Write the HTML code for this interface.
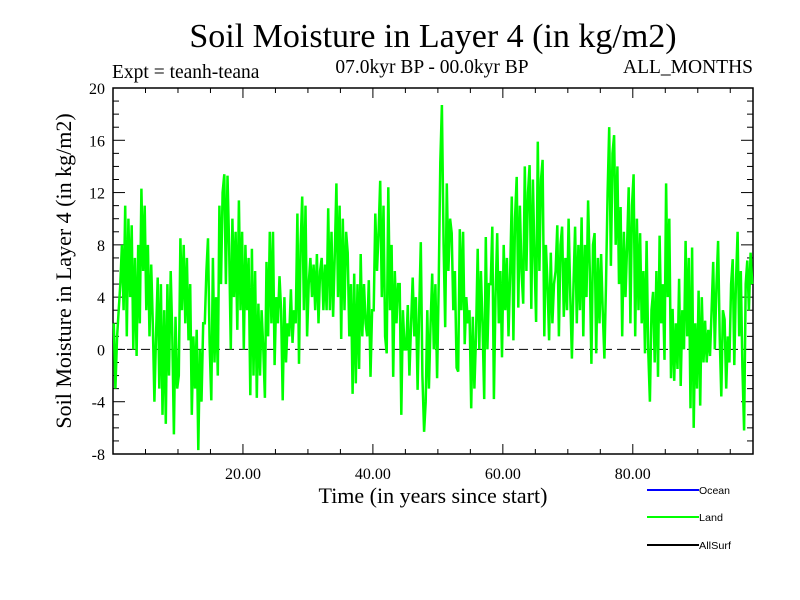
<!DOCTYPE html>
<html><head><meta charset="utf-8"><style>
body{margin:0;background:#fff}
svg{display:block}
.s{font-family:"Liberation Serif",serif}
</style></head><body>
<svg id="chart" width="800" height="600" xmlns="http://www.w3.org/2000/svg">
<rect width="800" height="600" fill="#fff"/>
<text class="s" x="433" y="47" font-size="34" text-anchor="middle">Soil Moisture in Layer 4 (in kg/m2)</text>
<text class="s" x="112" y="78" font-size="19.5">Expt = teanh-teana</text>
<text class="s" x="432" y="73" font-size="19.5" text-anchor="middle">07.0kyr BP - 00.0kyr BP</text>
<text class="s" x="753" y="73" font-size="19.5" text-anchor="end">ALL_MONTHS</text>
<text class="s" x="433" y="503" font-size="22" text-anchor="middle">Time (in years since start)</text>
<text class="s" transform="translate(71,271) rotate(-90)" font-size="22" text-anchor="middle">Soil Moisture in Layer 4 (in kg/m2)</text>
<g id="axes"></g>
<g id="series"></g>
<g font-family="'Liberation Sans',sans-serif" font-size="10.5">
<line x1="647" y1="490" x2="699" y2="490" stroke="#0000ff" stroke-width="2"/>
<text x="699" y="494" textLength="31" lengthAdjust="spacingAndGlyphs">Ocean</text>
<line x1="647" y1="517" x2="699" y2="517" stroke="#00ff00" stroke-width="2"/>
<text x="699" y="521" textLength="24" lengthAdjust="spacingAndGlyphs">Land</text>
<line x1="647" y1="545" x2="699" y2="545" stroke="#000" stroke-width="2"/>
<text x="699" y="549" textLength="32" lengthAdjust="spacingAndGlyphs">AllSurf</text>
</g>
</svg>
<script>
const xTicks=[20,40,60,80];
const xTickLabels=["20.00","40.00","60.00","80.00"];
const yTicks=[20,16,12,8,4,0,-4,-8];
const yTickLabels=["20","16","12","8","4","0","-4","-8"];
const landValues=[
2,-3,1,3, 5,8,3,11, 1,10,4,9.5, 0,7,-0.5,8, 2,12.3,6,11, 3,8,1,6.5, 2,-4,1,5.5, -3,5,-5,3, -5.7,5,-2,6, 1,-6.5,2.5,-3,
-2,8.5,3,8, 2,7,0.7,5, -5,1,-3,1.5, -7.7,0,-4,2, 2,6,8.5,0.5, -3.9,7,-1,4, -2,11,5,12, 13.4,5,13.3,8, 0,10,4,9, 1.5,11.4,3,9,
0,8,3,7, -3.5,7.7,-2,6, -3.7,3.5,-2,3, 0,-3.7,6.7,1, 9,2,9,-1.2, 4,2,5.6,3, -3.9,4,-1,2, 1,4.6,0.5,3, 2,10.4,-1.1,8, 11.7,3,11,1,
5,7,4,6.5, 3,7.3,2,6, 7,3,6.5,3, 10.8,3,9,2.5, 7,12.7,4,11, 0.8,10,3,9, 7.4,1,5,-3.4, 5.8,-2.6,5,-1.5, 7.3,1,5,2, 1,5.3,-2.1,3,
3,10.4,6,9, 12.9,4,11,1, -0.3,12.4,3,8, -2.1,6,2,5, 5,-5,3,0, 0,3.4,-2,2, 5.5,1,4,-3.1, 3,8.2,-2,-6.3, -4,3,-3,2, 5.8,0,5,-2.2,
5,14.3,18.7,8, 1.7,12.7,6,10, 8.9,3,6,-1.4, -1.7,9.2,3,9, 0.4,4,2,3, -4.5,2.5,-3,1, 7.7,0,6,2, -3.8,8.6,0,5, 5,9.4,-3.8,4, 8.9,2,6,-0.6,
8,3,7,1, 6,11.7,0.7,10, 13.2,3.2,11,6, 3.5,14,6,12, 14.1,3.1,13,7, 2.1,15.9,6,13, 14.5,1,8,5, 0.7,7.4,2,5, 6,9.5,1,8, 9.4,2.5,7,3,
10,4,-0.7,5, 9.4,2,8,3, 10.1,1,8,4, 11.4,6,-1.1,8, 8.9,-0.3,7,2, 7.3,3,-0.7,5, 12,17,6.4,15, 16.4,8,14,5, 10.9,1,9,4, 8,12.4,2,11,
13.4,1,10,3, 8.9,2,6,-0.3, 8.3,0,-4,3, 4.4,-1,6,-2.1, 8.7,2,5,-0.8, 12.7,4,10,-2.2, 3.1,-2.4,2,-1.5, 5.4,-2.8,3,0, 8.3,1,7,-4.5, 7.8,-6,2,-3,
4.5,-4.3,4,-1, 2.2,-1,1.5,-0.5, 3,6.7,0,5, 8.3,1,-3.6,3, 2.3,-3,1,-1, 5,6.9,-1.2,5, 9,1,6,-1.4, -6.2,5,6.8,3, 7.4,5
];
const timeStep=0.25, timeStart=0.125;
const X0=113,X1=753,Y0=88,Y1=454,XMIN=0,XMAX=98.5,YMIN=-8,YMAX=20;
const sx=v=>X0+(v-XMIN)/(XMAX-XMIN)*(X1-X0);
const sy=v=>Y1-(v-YMIN)/(YMAX-YMIN)*(Y1-Y0);
const NS="http://www.w3.org/2000/svg";
function mk(tag,attrs,parent){const e=document.createElementNS(NS,tag);for(const k in attrs)e.setAttribute(k,attrs[k]);parent.appendChild(e);return e;}
const ax=document.getElementById('axes');
const frame=mk('rect',{x:X0,y:Y0,width:X1-X0,height:Y1-Y0,fill:'none',stroke:'#000','stroke-width':1.5},ax);


const zl=mk('line',{x1:X0,x2:X1,y1:sy(0),y2:sy(0),stroke:'#000','stroke-dasharray':'9,5','stroke-width':1},ax);


for(let v=YMIN;v<=YMAX;v++){
  const major=(v%4===0), L=major?12:6, y=sy(v);
  const t=mk('line',{x1:X0,x2:X0+L,y1:y,y2:y,stroke:'#000','stroke-width':1},ax);
  
  
  const t2=mk('line',{x1:X1-L,x2:X1,y1:y,y2:y,stroke:'#000','stroke-width':1},ax);
  
  
}
yTicks.forEach((v,i)=>{
  const t=mk('text',{x:X0-8,y:sy(v)+6,'font-size':16,'text-anchor':'end','class':'s'},ax);
  t.textContent=yTickLabels[i];
  
  
});
for(let v=5;v<XMAX;v+=5){
  const major=(v%20===0), L=major?10:5, x=sx(v);
  const t=mk('line',{x1:x,x2:x,y1:Y1,y2:Y1-L,stroke:'#000','stroke-width':1},ax);
  
  
  const t2=mk('line',{x1:x,x2:x,y1:Y0,y2:Y0+L,stroke:'#000','stroke-width':1},ax);
  
  
}
xTicks.forEach((v,i)=>{
  const t=mk('text',{x:sx(v),y:Y1+25,'font-size':16,'text-anchor':'middle','class':'s'},ax);
  t.textContent=xTickLabels[i];
  
  
});
const pts=landValues.map((v,i)=>sx(timeStart+i*timeStep).toFixed(1)+','+sy(v).toFixed(1)).join(' ');
const pl=mk('polyline',{points:pts,fill:'none',stroke:'#00ff00','stroke-width':2.5,'stroke-linejoin':'miter'},document.getElementById('series'));


</script>
</body></html>
